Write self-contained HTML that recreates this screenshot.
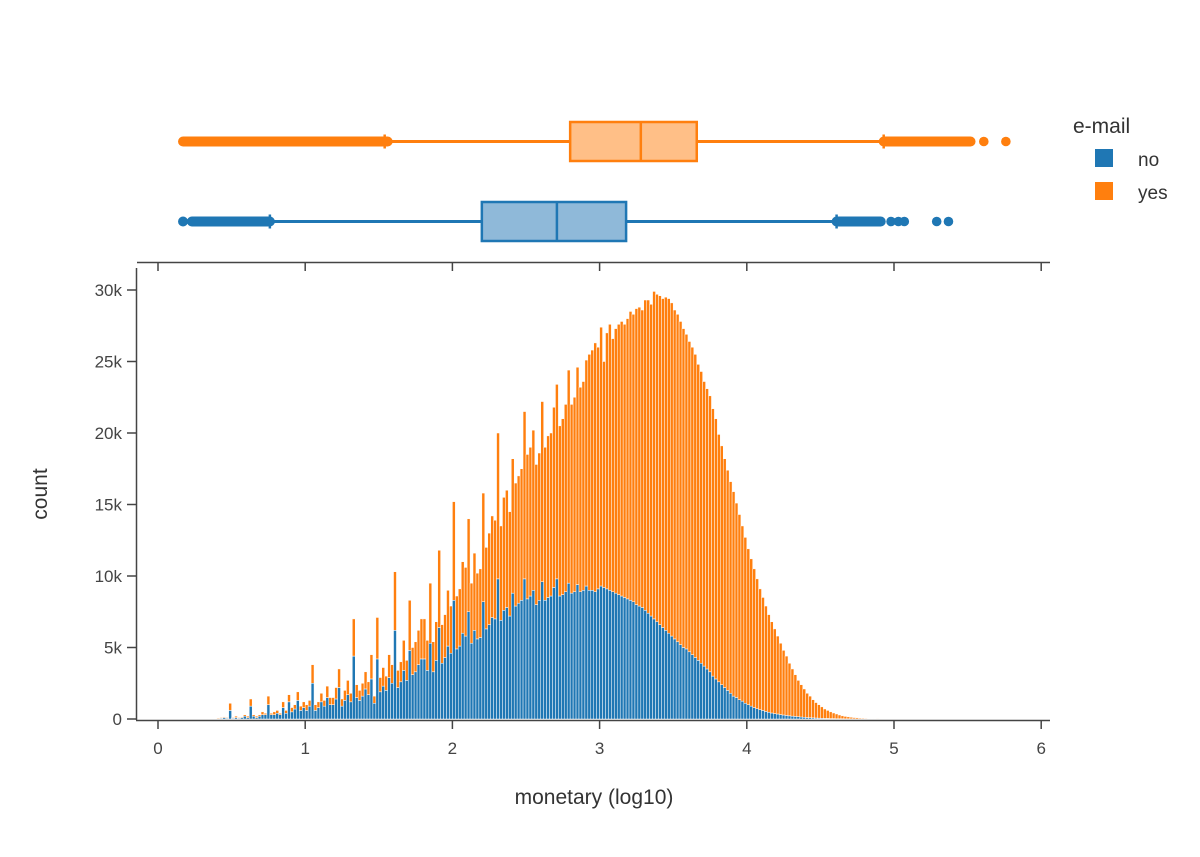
<!DOCTYPE html>
<html><head><meta charset="utf-8"><style>
body{margin:0;background:#fff;}
svg{display:block;font-family:"Liberation Sans","DejaVu Sans",sans-serif;}
</style></head><body>
<svg id="chart" width="1200" height="857" viewBox="0 0 1200 857" xmlns="http://www.w3.org/2000/svg">
<g id="bars"></g>
<g id="boxes"></g>
<g id="axes"></g>
<text x="594" y="804" font-size="21" fill="#333" text-anchor="middle">monetary (log10)</text>
<text x="47" y="494" font-size="21" fill="#333" text-anchor="middle" transform="rotate(-90 47 494)">count</text>
<g>
<text x="1073" y="133" font-size="21" fill="#333">e-mail</text>
<rect x="1095" y="149" width="18" height="18" fill="#1f77b4"/>
<text x="1138" y="166" font-size="19" fill="#333">no</text>
<rect x="1095" y="182" width="18" height="18" fill="#ff7f0e"/>
<text x="1138" y="199" font-size="19" fill="#333">yes</text>
</g>
</svg>
<script>
const binStart = 0.40;
const binWidth = 0.02;
// blue "no" counts (thousands), bins 0.40..4.88 step 0.02
const noCounts = [
0,0.05,0.1,0.05,0.6, 0.05,0.1,0.05,0.1,0.2, 0.1,0.9,0.2,0.1,0.2, 0.3,0.3,1.0,0.3,0.3,
0.4,0.3,0.8,0.4,1.2, 0.5,0.7,1.3,0.6,0.8, 0.6,0.9,2.5,0.6,0.8, 1.2,0.9,1.5,1.0,1.0,
1.4,2.2,0.9,1.3,1.7, 1.2,4.4,1.5,1.3,1.6, 2.1,1.7,2.8,1.1,4.2, 1.9,2.3,2.0,2.9,2.5,
6.2,2.2,2.6,3.4,2.7, 4.8,3.1,3.3,3.8,4.2, 4.2,3.4,5.3,3.3,4.1, 6.4,3.9,4.3,5.1,4.6,
8.3,4.9,5.1,6.0,5.8, 7.5,5.3,6.2,5.6,5.7, 8.2,6.3,6.6,7.1,7.0, 9.8,6.9,7.6,7.8,7.2,
8.8,7.9,8.1,8.3,9.8, 8.4,8.6,9.0,8.0,8.3, 9.6,8.3,8.5,8.6,9.2, 9.8,8.6,8.7,8.9,9.5,
8.8,8.9,9.4,8.9,9.0, 9.3,9.0,9.0,8.9,9.1, 9.3,9.2,9.1,9.0,8.9, 8.8,8.7,8.6,8.5,8.4,
8.3,8.2,8.0,7.9,7.8, 7.6,7.4,7.2,7.0,6.8, 6.6,6.4,6.2,6.0,5.8, 5.6,5.4,5.2,5.0,4.9,
4.7,4.5,4.3,4.1,3.9, 3.7,3.5,3.3,3.0,2.8, 2.6,2.4,2.2,2.0,1.8, 1.6,1.5,1.35,1.25,1.1,
1.0,0.9,0.8,0.72,0.65, 0.6,0.53,0.47,0.42,0.38, 0.35,0.31,0.28,0.25,0.22, 0.2,0.18,0.16,0.14,0.12,
0.1,0.09,0.08,0.07,0.06, 0.05,0.04,0.04,0.03,0.03, 0.02,0.02,0.02,0.01,0.01, 0.01,0.01,0,0,0,
0,0,0,0,0
];
// stacked top (no + yes) counts (thousands)
const stackTopCounts = [
0.05,0.1,0.15,0.1,1.1, 0.1,0.2,0.1,0.15,0.3, 0.2,1.4,0.3,0.2,0.3, 0.5,0.4,1.6,0.4,0.5,
0.6,0.4,1.2,0.6,1.7, 0.8,1.0,1.9,0.9,1.2, 1.0,1.3,3.8,1.0,1.2, 1.8,1.3,2.3,1.5,1.5,
2.2,3.5,1.4,2.0,2.7, 1.8,7.0,2.4,2.0,2.5, 3.3,2.6,4.5,1.6,7.1, 2.9,3.6,3.0,4.5,3.8,
10.3,3.4,4.0,5.5,4.1, 8.3,5.0,5.4,6.2,7.0, 7.0,5.5,9.5,5.4,6.8, 11.8,6.6,7.3,9.0,7.9,
15.2,8.6,9.1,11.0,10.6, 14.0,9.5,11.6,10.2,10.5, 15.8,12.0,13.0,14.2,13.9, 20.0,13.5,15.5,16.0,14.5,
18.2,16.5,17.0,17.5,21.5, 18.5,19.0,20.2,17.8,18.6, 22.2,19.0,19.8,20.0,21.8, 23.4,20.5,21.0,22.0,24.4,
22.0,22.5,24.6,23.2,23.6, 25.1,25.5,25.8,26.3,26.0, 27.4,25.0,27.0,27.6,26.6, 27.3,27.6,27.8,27.6,28.0,
28.5,28.3,28.7,28.8,28.6, 29.3,29.3,29.0,29.9,29.7, 29.6,29.4,29.5,29.4,29.1, 28.6,28.3,27.8,27.3,26.9,
26.4,26.0,25.5,24.8,24.3, 23.6,23.1,22.6,21.7,21.0, 19.9,19.1,18.2,17.4,16.6, 15.9,15.1,14.3,13.5,12.7,
11.9,11.2,10.5,9.8,9.1, 8.5,7.9,7.3,6.8,6.3, 5.8,5.3,4.8,4.4,3.9, 3.5,3.1,2.7,2.4,2.1,
1.8,1.6,1.35,1.15,1.0, 0.85,0.7,0.6,0.5,0.42, 0.35,0.28,0.22,0.18,0.15, 0.12,0.1,0.08,0.06,0.05,
0.04,0.03,0.02,0.02,0.01
];
const xTicks = [0,1,2,3,4,5,6];
const yTicks = [0,5,10,15,20,25,30];
const yTickLabels = ["0","5k","10k","15k","20k","25k","30k"];
// box stats (log10): lowerWhisker, q1, median, q3, upperWhisker
const boxNo = [0.76, 2.20, 2.71, 3.18, 4.61];
const boxYes = [1.54, 2.80, 3.28, 3.66, 4.93];
const noOutlierRanges = [[0.17,0.17],[0.23,0.76],[4.61,4.91]];
const noOutlierPoints = [4.98,5.03,5.07,5.29,5.37];
const yesOutlierRanges = [[0.17,1.56],[4.93,5.52]];
const yesOutlierPoints = [5.61,5.76];

const NS = "http://www.w3.org/2000/svg";
const X0 = 158, XS = 147.2, Y0 = 719, YS = 14.3;
const xs = v => X0 + v * XS;
const ys = v => Y0 - v * YS;
function mk(tag, attrs, parent){const e=document.createElementNS(NS,tag);for(const k in attrs)e.setAttribute(k,attrs[k]);parent.appendChild(e);return e;}

const bars = document.getElementById('bars');
for (let i = 0; i < noCounts.length; i++) {
  const x = xs(binStart + i*binWidth), w = binWidth*XS;
  const top = Math.max(stackTopCounts[i], noCounts[i]);
  const b = mk('rect',{x:x,y:ys(noCounts[i]),width:w,height:noCounts[i]*YS,fill:'#1f77b4',stroke:'#fff','stroke-width':0.5},bars);
  
  
  const yv = top - noCounts[i];
  const o = mk('rect',{x:x,y:ys(top),width:w,height:yv*YS,fill:'#ff7f0e',stroke:'#fff','stroke-width':0.5},bars);
  
  
}

const boxes = document.getElementById('boxes');
function drawBox(stats, ranges, points, cy, color, fill, name){
  const g = mk('g',{},boxes);
  
  
  mk('line',{x1:xs(stats[0]),x2:xs(stats[4]),y1:cy,y2:cy,stroke:color,'stroke-width':3},g);
  mk('line',{x1:xs(stats[0]),x2:xs(stats[0]),y1:cy-7,y2:cy+7,stroke:color,'stroke-width':2.5},g);
  mk('line',{x1:xs(stats[4]),x2:xs(stats[4]),y1:cy-7,y2:cy+7,stroke:color,'stroke-width':2.5},g);
  mk('rect',{x:xs(stats[1]),y:cy-19.5,width:xs(stats[3])-xs(stats[1]),height:39,fill:fill,stroke:color,'stroke-width':2.5},g);
  mk('line',{x1:xs(stats[2]),x2:xs(stats[2]),y1:cy-19.5,y2:cy+19.5,stroke:color,'stroke-width':2.5},g);
  ranges.forEach(r=>{
    const l = mk('line',{x1:xs(r[0]),x2:xs(r[1]),y1:cy,y2:cy,stroke:color,'stroke-width':10,'stroke-linecap':'round'},g);
    
    
  });
  points.forEach(p=>{
    const c = mk('circle',{cx:xs(p),cy:cy,r:4.8,fill:color},g);
    
    
  });
}
drawBox(boxYes, yesOutlierRanges, yesOutlierPoints, 141.5, '#ff7f0e', '#ffbf87', 'box-yes');
drawBox(boxNo, noOutlierRanges, noOutlierPoints, 221.5, '#1f77b4', '#8fb9d9', 'box-no');

const axes = document.getElementById('axes');
mk('line',{x1:137,x2:1050,y1:262.5,y2:262.5,stroke:'#444','stroke-width':1.5},axes);
mk('line',{x1:136.5,x2:136.5,y1:268,y2:720,stroke:'#444','stroke-width':1.5},axes);
mk('line',{x1:136,x2:1050,y1:720.5,y2:720.5,stroke:'#444','stroke-width':1.5},axes);
xTicks.forEach(t=>{
  const x = xs(t);
  mk('line',{x1:x,x2:x,y1:262,y2:271,stroke:'#444','stroke-width':1.5},axes);
  mk('line',{x1:x,x2:x,y1:720,y2:729,stroke:'#444','stroke-width':1.5},axes);
  const tx = mk('text',{x:x,y:754,'font-size':17,fill:'#444','text-anchor':'middle'},axes);
  tx.textContent = String(t);
  
  
});
yTicks.forEach((t,i)=>{
  const y = ys(t);
  mk('line',{x1:127,x2:136,y1:y,y2:y,stroke:'#444','stroke-width':1.5},axes);
  const tx = mk('text',{x:122,y:y+6,'font-size':17,fill:'#444','text-anchor':'end'},axes);
  tx.textContent = yTickLabels[i];
  
  
});
</script>
</body></html>
